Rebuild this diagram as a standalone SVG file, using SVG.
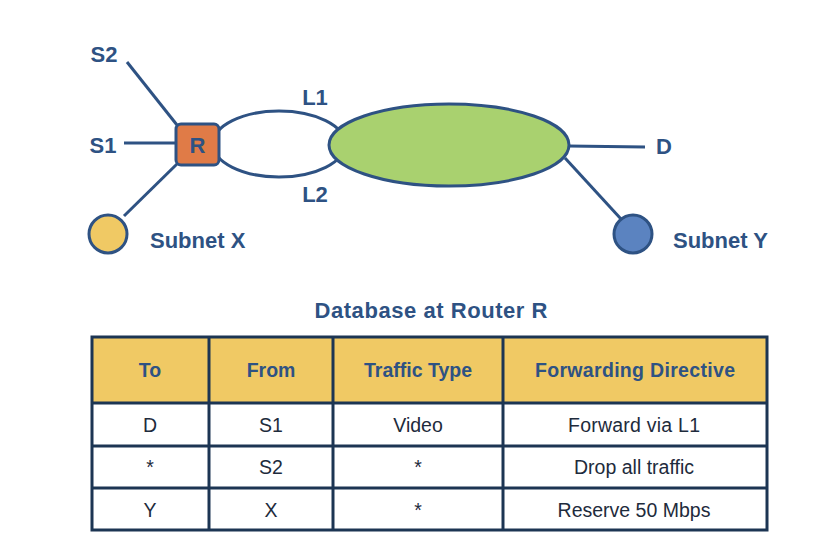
<svg xmlns="http://www.w3.org/2000/svg" width="840" height="552" viewBox="0 0 840 552">
<style>
.lbl{font-family:"Liberation Sans",Arial,sans-serif;font-weight:bold;font-size:22px;fill:#2E5283}
.ln{stroke:#2E5283;stroke-width:3;fill:none}
.hd{font-family:"Liberation Sans",Arial,sans-serif;font-weight:bold;font-size:19.5px;fill:#2E5283;text-anchor:middle}
.bd{font-family:"Liberation Sans",Arial,sans-serif;font-size:19.5px;fill:#1E2B3C;text-anchor:middle}
.grid{stroke:#1C3553;stroke-width:3;fill:none}
</style>
<rect width="840" height="552" fill="#FFFFFF"/>
<g id="connectors">
<line class="ln" x1="127" y1="62" x2="177" y2="125"/>
<line class="ln" x1="124" y1="143" x2="177" y2="143"/>
<line class="ln" x1="178" y1="163" x2="124" y2="216"/>
<line class="ln" x1="568" y1="146" x2="645" y2="147"/>
<line class="ln" x1="565" y1="158" x2="621" y2="219"/>
<ellipse id="links" class="ln" cx="279" cy="144" rx="66" ry="33"/>
</g>
<g id="cloud"><ellipse cx="449" cy="145" rx="120" ry="41" fill="#A9D16F" stroke="#2E5283" stroke-width="3"/></g>
<g id="router"><rect x="176" y="124" width="43" height="41" rx="5" fill="#E07B47" stroke="#2E5283" stroke-width="3"/><text class="lbl" x="197.5" y="152.5" text-anchor="middle">R</text></g>
<g id="subnetX"><circle cx="108" cy="234" r="19" fill="#F0C964" stroke="#2E5283" stroke-width="3"/><text class="lbl" x="150" y="248" font-size="23">Subnet X</text></g>
<g id="subnetY"><circle cx="633" cy="234" r="19" fill="#5B83C0" stroke="#2E5283" stroke-width="3"/><text class="lbl" x="673" y="248" font-size="23">Subnet Y</text></g>
<g id="S2"><text class="lbl" x="104" y="62" text-anchor="middle">S2</text></g>
<g id="S1"><text class="lbl" x="103" y="153" text-anchor="middle">S1</text></g>
<g id="D"><text class="lbl" x="656" y="154">D</text></g>
<g id="L1"><text class="lbl" x="315" y="105" text-anchor="middle" font-size="21">L1</text></g>
<g id="L2"><text class="lbl" x="315" y="202" text-anchor="middle" font-size="21">L2</text></g>
<g id="table">
<text class="lbl" x="431" y="318" text-anchor="middle" font-size="22" textLength="233">Database at Router R</text>
<rect x="92" y="337" width="675" height="66" fill="#F0C964"/>
<rect class="grid" x="92" y="337" width="675" height="193"/>
<line class="grid" x1="92" y1="403" x2="767" y2="403"/>
<line class="grid" x1="92" y1="446" x2="767" y2="446"/>
<line class="grid" x1="92" y1="488" x2="767" y2="488"/>
<line class="grid" x1="209" y1="337" x2="209" y2="530"/>
<line class="grid" x1="333" y1="337" x2="333" y2="530"/>
<line class="grid" x1="503" y1="337" x2="503" y2="530"/>
<text class="hd" x="150" y="377">To</text>
<text class="hd" x="271" y="377">From</text>
<text class="hd" x="418" y="377">Traffic Type</text>
<text class="hd" x="635" y="377" textLength="200">Forwarding Directive</text>
<text class="bd" x="150" y="432">D</text>
<text class="bd" x="271" y="432">S1</text>
<text class="bd" x="418" y="432">Video</text>
<text class="bd" x="634" y="432" textLength="132">Forward via L1</text>
<text class="bd" x="150" y="474">*</text>
<text class="bd" x="271" y="474">S2</text>
<text class="bd" x="418" y="474">*</text>
<text class="bd" x="634" y="474">Drop all traffic</text>
<text class="bd" x="150" y="517">Y</text>
<text class="bd" x="271" y="517">X</text>
<text class="bd" x="418" y="517">*</text>
<text class="bd" x="634" y="517">Reserve 50 Mbps</text>
</g>
</svg>
